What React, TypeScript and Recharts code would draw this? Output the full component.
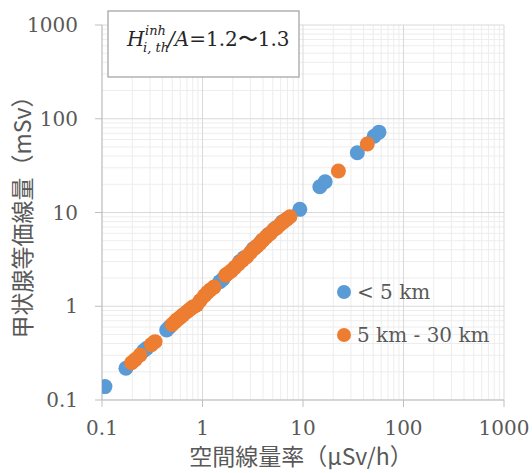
import React from "react";
import { ScatterChart, Scatter, XAxis, YAxis, CartesianGrid, Legend } from "recharts";

// 空間線量率 (µSv/h) vs 甲状腺等価線量 (mSv)
const nearX = [0.107, 0.173, 0.26, 0.279, 0.44, 0.47, 1.49, 1.6, 2.35, 2.6, 3.2, 3.9, 4.5, 5.3, 6.2, 9.3, 14.7, 16.6, 34.7, 51, 57];
const nearY = [0.139, 0.218, 0.335, 0.356, 0.558, 0.6, 1.83, 1.95, 3.0, 3.3, 4.1, 5.0, 5.8, 6.8, 7.9, 10.8, 18.8, 21.3, 43.4, 65, 72];

const farX = [
  0.197, 0.215, 0.239, 0.31, 0.337,
  0.5, 0.53, 0.56, 0.6, 0.64, 0.7, 0.75, 0.8, 0.875, 0.95, 1.05, 1.12, 1.19, 1.3,
  1.7, 1.8, 1.95, 2.1, 2.3, 2.5, 2.75, 3.0, 3.3, 3.5, 3.73, 4.0, 4.3, 4.7, 5.07, 5.5, 5.9, 6.4, 6.9, 7.4,
  22.5, 43.6,
];
const farY = [
  0.25, 0.27, 0.302, 0.39, 0.419,
  0.64, 0.68, 0.72, 0.76, 0.81, 0.875, 0.93, 0.98, 1.03, 1.15, 1.3, 1.4, 1.49, 1.6,
  2.15, 2.25, 2.4, 2.6, 2.85, 3.1, 3.38, 3.75, 4.15, 4.4, 4.69, 5.1, 5.5, 5.95, 6.5, 6.9, 7.4, 8.0, 8.5, 9.0,
  27.7, 53.8,
];

const seriesNames = ["< 5 km", "5 km - 30 km"];
const seriesColors = ["#5B9BD5", "#ED7D31"];

const decadeTicks = [0.1, 1, 10, 100, 1000];
const minorTicks = [0.1, 1, 10, 100].flatMap((d) => [2, 3, 4, 5, 6, 7, 8, 9].map((m) => +(d * m).toPrecision(3)));

const nearData = nearX.map((x, i) => ({ x, y: nearY[i] }));
const farData = farX.map((x, i) => ({ x, y: farY[i] }));

const tickStyle = { fill: "#595959", fontSize: 20, fontFamily: "DejaVu Serif" };
const axisGray = "#bfbfbf";

const dot = (color: string) => (props: any) => (
  <circle cx={props.cx} cy={props.cy} r={7.5} fill={color} />
);

// legend keeps the series order of the original (< 5 km first)
const LegendBox = () => (
  <div>
    {seriesNames.map((name, i) => (
      <div key={name} style={{ display: "flex", alignItems: "center", height: 43 }}>
        <svg width={16} height={16} style={{ marginRight: 5 }}>
          <circle cx={8} cy={8} r={7} fill={seriesColors[i]} />
        </svg>
        <span style={{ fontFamily: "DejaVu Serif", fontSize: 20, color: "#595959", whiteSpace: "nowrap" }}>{name}</span>
      </div>
    ))}
  </div>
);

export default function App() {
  return (
    <div style={{ position: "absolute", left: 0, top: 0, width: 532, height: 473, background: "#fff" }}>
      <ScatterChart width={532} height={473} margin={{ top: 25, right: 28, bottom: 0, left: 0 }}>
        <CartesianGrid stroke="#ededed" horizontalValues={minorTicks} verticalValues={minorTicks} />
        <CartesianGrid stroke="#d9d9d9" horizontalValues={decadeTicks} verticalValues={decadeTicks} />
        <XAxis
          dataKey="x"
          type="number"
          scale="log"
          domain={[0.1, 1000]}
          ticks={decadeTicks}
          allowDataOverflow
          height={73}
          tickSize={7}
          tickMargin={14}
          tick={tickStyle}
          stroke={axisGray}
          interval={0}
        />
        <YAxis
          dataKey="y"
          type="number"
          scale="log"
          domain={[0.1, 1000]}
          ticks={decadeTicks}
          allowDataOverflow
          width={102}
          tickSize={7}
          tickMargin={17}
          tick={tickStyle}
          stroke={axisGray}
          interval={0}
        />
        <Legend
          layout="vertical"
          align="center"
          verticalAlign="middle"
          content={<LegendBox />}
          wrapperStyle={{ left: 336, top: 270, width: "auto", height: "auto" }}
        />
        <Scatter name={seriesNames[0]} data={nearData} fill={seriesColors[0]} shape={dot(seriesColors[0])} isAnimationActive={false} />
        <Scatter name={seriesNames[1]} data={farData} fill={seriesColors[1]} shape={dot(seriesColors[1])} isAnimationActive={false} />
      </ScatterChart>
      <svg width={532} height={473} style={{ position: "absolute", left: 0, top: 0, pointerEvents: "none" }}>
        <rect x={108} y={11} width={191} height={66} fill="#fff" stroke="#a6a6a6" strokeWidth={1.3} />
        <text fontFamily="DejaVu Serif" fill="#262626">
          <tspan x={127} y={46} fontSize={20} fontStyle="italic">H</tspan>
          <tspan x={145} y={35} fontSize={13} fontStyle="italic">inh</tspan>
          <tspan x={143} y={52} fontSize={13} fontStyle="italic">i, th</tspan>
          <tspan x={168} y={46} fontSize={20} fontStyle="italic">/A</tspan>
          <tspan fontSize={20}>=1.2〜1.3</tspan>
        </text>
        <text x={301} y={465} textAnchor="middle" fontFamily="Noto Sans CJK JP" fontSize={23} fill="#595959">
          空間線量率（μSv/h）
        </text>
        <text transform="translate(31,211.5) rotate(-90)" textAnchor="middle" fontFamily="Noto Sans CJK JP" fontSize={23} fill="#595959">
          甲状腺等価線量（mSv）
        </text>
      </svg>
    </div>
  );
}
